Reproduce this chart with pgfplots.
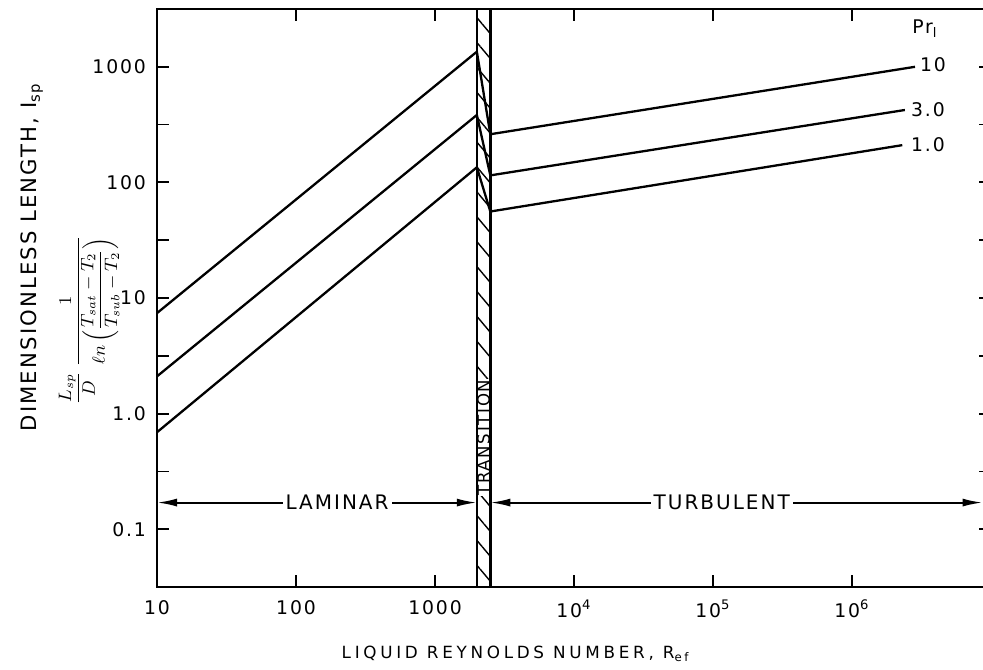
\documentclass[border=0pt]{standalone}
\usepackage{fontspec}
\setmainfont{DejaVu Sans}[LetterSpace=10]
\usepackage{pgfplots}
\pgfplotsset{compat=1.18}
\usetikzlibrary{patterns.meta,arrows.meta}

\begin{document}
\begin{tikzpicture}
\begin{axis}[
  name=main,
  xmode=log, ymode=log,
  scale only axis,
  width=417pt, height=289pt,
  xmin=10, xmax=1e7,
  ymin=0.0316228, ymax=3162.28,
  axis line style={line width=1.4pt},
  tick style={line width=0.9pt, black},
  major tick length=6pt,
  xminorticks=false, yminorticks=false,
  xtick={10,100,1000,10000,100000,1000000},
  xticklabels={10,100,1000,10\textsuperscript{4},10\textsuperscript{5},10\textsuperscript{6}},
  ytick={0.1,0.316228,1,3.16228,10,31.6228,100,316.228,1000},
  yticklabels={0.1,,1.0,,10,,100,,1000},
  tick label style={font=\fontsize{9.4}{10}\selectfont},
  xticklabel style={yshift=-3pt},
  yticklabel style={xshift=-2pt},
  xlabel={LIQUID REYNOLDS NUMBER, R\textsubscript{ef}},
  xlabel style={at={(axis description cs:0.43,-0.116)}, anchor=center, font=\fontsize{8.4}{9}\selectfont\addfontfeatures{LetterSpace=22}},
  ylabel={DIMENSIONLESS LENGTH, I\textsubscript{sp}},
  ylabel style={at={(axis description cs:-0.15,0.571)}, anchor=center, rotate=0, font=\fontsize{10.6}{12}\selectfont},
  clip=true,
]
% transition band (hatched)
\addplot[draw=none, pattern={Lines[angle=-50,distance=8pt,line width=0.7pt]}]
  coordinates {(2000,0.01) (2500,0.01) (2500,10000) (2000,10000)} -- cycle;
\node[rotate=90, fill=white, inner sep=0.5pt, font=\fontsize{8.3}{9}\selectfont] at (axis cs:2236,0.62) {TRANSITION};
\addplot[line width=1.3pt] coordinates {(2000,0.01) (2000,10000)};
\addplot[line width=1.3pt] coordinates {(2500,0.01) (2500,10000)};

% Pr = 10, 3.0, 1.0
\addplot[line width=1.15pt] coordinates {(10,7.4) (2000,1350) (2500,261) (2.84e6,1000)};
\addplot[line width=1.15pt] coordinates {(10,2.1) (2000,383) (2500,115) (2.4e6,423)};
\addplot[line width=1.15pt] coordinates {(10,0.69) (2000,135) (2500,56) (2.3e6,210)};

% regime arrows
\draw[line width=1pt, {Latex[length=10pt,width=4pt]}-{Latex[length=10pt,width=4pt]}]
  (axis cs:10,0.17) -- node[pos=0.563, fill=white, inner sep=1.5pt, font=\fontsize{10}{11}\selectfont]{LAMINAR} (axis cs:2000,0.17);
\draw[line width=1pt, {Latex[length=10pt,width=4pt]}-{Latex[length=10pt,width=4pt]}]
  (axis cs:2500,0.17) -- node[pos=0.47, fill=white, inner sep=1.5pt, font=\fontsize{10}{11}\selectfont]{TURBULENT} (axis cs:8.7e6,0.17);

% curve labels
\node[font=\fontsize{9.4}{10}\selectfont] at (axis cs:3.35e6,2150) {Pr\textsubscript{l}};
\node[font=\fontsize{9.4}{10}\selectfont] at (axis cs:3.83e6,1040) {10};
\node[font=\fontsize{9.4}{10}\selectfont] at (axis cs:3.52e6,425) {3.0};
\node[font=\fontsize{9.4}{10}\selectfont] at (axis cs:3.52e6,211) {1.0};
\end{axis}
% formula part of y label
\path (main.south west) ++(-34pt,133.5pt) node[rotate=90, font=\fontsize{8.6}{10}\selectfont]
  {$\displaystyle\frac{L_{sp}}{D}\;\frac{1}{\ell n\left({\displaystyle\frac{T_{sat}-T_2}{T_{sub}-T_2}}\right)}$};
\pgfresetboundingbox
\path[use as bounding box] ([xshift=-78.5pt, yshift=-41pt]main.south west) rectangle ([xshift=413pt, yshift=4.5pt]main.north west);
\end{tikzpicture}
\end{document}
